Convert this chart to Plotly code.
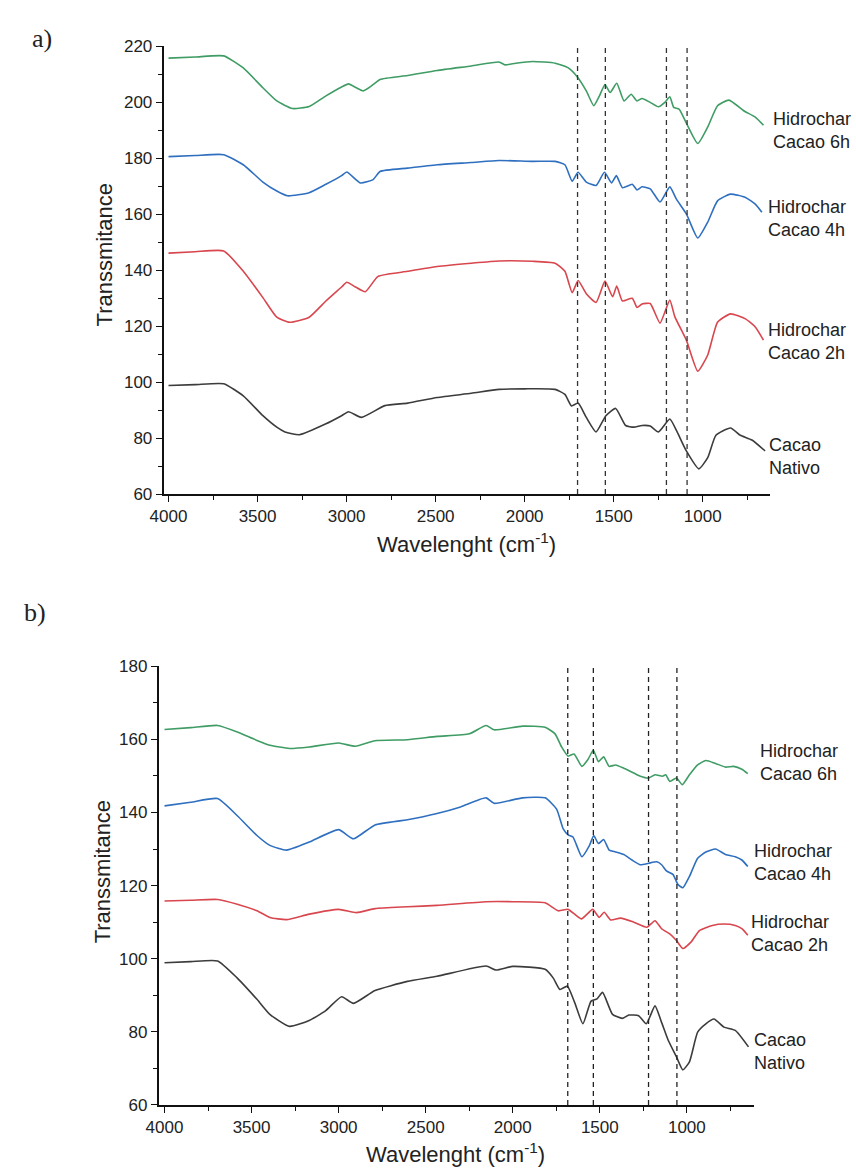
import plotly.graph_objects as go

# ---------------- Panel a data (wavenumber cm-1, transmittance) ----------------
a_green_x = [4000, 3850, 3690, 3580, 3470, 3392, 3304, 3210, 3116, 3028, 2989, 2945, 2906, 2862, 2812, 2657, 2492, 2300, 2144, 2110,
             2050, 1956, 1829, 1755, 1703, 1654, 1612, 1580, 1549, 1520, 1483, 1442, 1402, 1369, 1341, 1295, 1249, 1213, 1185, 1163,
             1133, 1092, 1028, 972, 917, 853, 770, 705, 659]
a_green_y = [215.8, 216.2, 216.6, 212.3, 205.2, 200.5, 197.8, 198.5, 202.3, 205.5, 206.6, 205.2, 204.1, 205.8, 208.2, 209.6, 211.4, 213.0, 214.4, 213.4,
             214.0, 214.6, 214.0, 212.3, 209.0, 204.1, 198.8, 202.3, 206.4, 203.5, 206.8, 200.5, 202.9, 200.5, 201.4, 200.0, 198.4, 200.0, 202.0, 198.2,
             197.6, 192.6, 185.3, 191.2, 198.8, 200.8, 197.0, 194.7, 191.8]

a_blue_x = [4000, 3850, 3690, 3580, 3470, 3392, 3331, 3210, 3116, 3028, 2999, 2923, 2851, 2812, 2657, 2492, 2300, 2144, 1956, 1829,
            1774, 1733, 1700, 1654, 1599, 1552, 1512, 1485, 1451, 1396, 1369, 1341, 1295, 1240, 1185, 1148, 1092, 1028, 972, 917,
            844, 760, 705, 668]
a_blue_y = [180.6, 181.0, 181.3, 177.7, 171.5, 168.3, 166.6, 167.7, 170.7, 173.8, 175.1, 171.2, 172.4, 175.3, 176.5, 177.7, 178.5, 179.2, 178.9, 178.9,
            177.7, 171.8, 175.0, 171.5, 170.3, 175.0, 171.2, 173.8, 169.5, 170.7, 168.7, 169.8, 169.1, 164.4, 169.8, 165.4, 160.1, 151.5, 157.2, 164.8,
            167.2, 166.0, 163.6, 160.7]

a_red_x = [4000, 3850, 3690, 3580, 3470, 3392, 3320, 3210, 3116, 3028, 2999, 2950, 2895, 2823, 2657, 2492, 2300, 2144, 1956, 1829,
           1774, 1733, 1700, 1654, 1599, 1549, 1506, 1483, 1451, 1396, 1369, 1341, 1295, 1240, 1185, 1157, 1092, 1028, 972, 917,
           844, 760, 705, 659]
a_red_y = [146.1, 146.6, 146.9, 139.6, 130.2, 123.2, 121.4, 123.2, 129.0, 134.0, 135.7, 134.0, 132.3, 137.8, 139.6, 141.3, 142.5, 143.3, 143.2, 142.5,
           139.6, 132.0, 136.3, 131.6, 128.5, 136.1, 130.5, 134.3, 129.0, 130.0, 126.7, 127.9, 128.1, 121.1, 129.3, 123.4, 115.0, 103.9, 109.7, 121.4,
           124.4, 122.6, 119.7, 115.0]

a_black_x = [4000, 3850, 3690, 3580, 3470, 3392, 3346, 3265, 3116, 3028, 2989, 2917, 2785, 2657, 2492, 2300, 2144, 2000, 1829, 1774,
             1737, 1700, 1654, 1599, 1544, 1489, 1433, 1387, 1341, 1295, 1249, 1185, 1144, 1092, 1022, 972, 926, 844, 789, 724,
             650]
a_black_y = [98.8, 99.1, 99.4, 95.1, 88.0, 83.9, 82.2, 81.2, 85.1, 88.0, 89.4, 87.4, 91.6, 92.5, 94.5, 96.0, 97.4, 97.6, 97.4, 95.6,
             91.5, 92.5, 87.4, 82.2, 88.0, 90.6, 84.5, 83.9, 84.5, 84.3, 82.2, 86.8, 82.2, 75.4, 69.0, 73.0, 81.0, 83.6, 81.0, 79.3,
             75.4]

# ---------------- Panel b data ----------------
b_green_x = [4000, 3850, 3695, 3582, 3469, 3395, 3282, 3169, 3000, 2904, 2791, 2605, 2435, 2249, 2153, 2107, 1944, 1814, 1757, 1719,
             1682, 1648, 1603, 1569, 1537, 1508, 1478, 1446, 1409, 1362, 1305, 1267, 1220, 1183, 1140, 1121, 1098, 1060, 1026, 985,
             938, 891, 835, 778, 731, 684, 650]
b_green_y = [162.7, 163.2, 163.8, 162.0, 159.7, 158.4, 157.5, 157.9, 159.0, 158.1, 159.6, 159.9, 160.8, 161.5, 163.8, 162.6, 163.6, 163.3, 161.5, 157.9,
             155.4, 156.0, 152.6, 154.4, 157.0, 153.9, 155.2, 152.6, 153.0, 152.1, 150.8, 149.9, 149.4, 150.3, 149.9, 150.3, 148.5, 149.4, 147.6, 150.3,
             153.0, 154.2, 153.4, 152.4, 152.6, 151.8, 150.6]

b_blue_x = [4000, 3850, 3695, 3582, 3469, 3395, 3299, 3169, 3000, 2915, 2791, 2605, 2435, 2300, 2153, 2107, 1944, 1814, 1748, 1710,
            1682, 1654, 1603, 1559, 1535, 1508, 1478, 1446, 1409, 1362, 1315, 1267, 1220, 1173, 1145, 1117, 1079, 1051, 1023, 985,
            938, 891, 835, 778, 722, 684, 650]
b_blue_y = [141.8, 142.8, 143.8, 139.1, 133.7, 131.0, 129.7, 131.9, 135.3, 132.8, 136.6, 138.0, 139.7, 141.5, 144.0, 142.5, 144.0, 144.0, 140.9, 135.5,
            133.9, 133.3, 127.9, 131.0, 133.7, 131.5, 132.6, 129.7, 129.2, 128.5, 127.0, 125.7, 126.1, 126.5, 125.7, 124.0, 123.0, 120.3, 119.4, 122.5,
            127.5, 129.2, 130.0, 128.5, 127.9, 127.0, 125.2]

b_red_x = [4000, 3850, 3695, 3582, 3469, 3395, 3299, 3169, 3000, 2898, 2791, 2605, 2435, 2153, 2000, 1814, 1738, 1682, 1606, 1541,
           1503, 1475, 1437, 1381, 1305, 1230, 1183, 1145, 1098, 1060, 1023, 975, 928, 853, 787, 722, 684, 650]
b_red_y = [115.8, 116.0, 116.2, 114.9, 113.1, 111.3, 110.7, 112.2, 113.5, 112.6, 113.7, 114.2, 114.6, 115.6, 115.6, 115.3, 113.1, 113.5, 110.9, 113.5,
           111.3, 112.7, 110.6, 111.1, 110.0, 108.6, 110.4, 108.2, 106.8, 105.0, 102.8, 104.6, 107.7, 109.1, 109.5, 109.1, 108.2, 106.4]

b_black_x = [4000, 3850, 3695, 3582, 3469, 3395, 3282, 3169, 3074, 2983, 2915, 2791, 2605, 2435, 2153, 2096, 2000, 1814, 1767, 1729,
             1686, 1644, 1597, 1550, 1516, 1484, 1427, 1371, 1333, 1277, 1233, 1183, 1145, 1107, 1060, 1023, 985, 938, 891, 844,
             787, 722, 646]
b_black_y = [98.9, 99.2, 99.4, 94.7, 88.9, 84.8, 81.5, 83.1, 85.8, 89.6, 87.8, 91.3, 93.8, 95.2, 98.0, 96.9, 97.9, 97.1, 94.7, 91.6,
             92.5, 88.0, 82.2, 88.4, 89.0, 90.8, 84.8, 83.7, 84.6, 84.4, 82.2, 87.1, 82.6, 77.7, 73.2, 69.6, 71.8, 79.9, 82.2, 83.5,
             81.3, 80.4, 75.9]

# dashed reference bands
a_bands = [1703, 1547, 1204, 1088]
b_bands = [1684, 1537, 1220, 1057]

# labels
labels = ["Hidrochar<br>Cacao 6h", "Hidrochar<br>Cacao 4h", "Hidrochar<br>Cacao 2h", "Cacao<br>Nativo"]
colors = ["#3f9c64", "#2f6fbf", "#d8464e", "#3c3c3c"]

W, H = 856, 1175
def px(x): return x / W
def py(y): return 1 - y / H

fig = go.Figure()

a_series = [(a_green_x, a_green_y), (a_blue_x, a_blue_y), (a_red_x, a_red_y), (a_black_x, a_black_y)]
b_series = [(b_green_x, b_green_y), (b_blue_x, b_blue_y), (b_red_x, b_red_y), (b_black_x, b_black_y)]

for (xs, ys), c, lab in zip(a_series, colors, labels):
    fig.add_trace(go.Scatter(x=xs, y=ys, mode="lines",
                             line=dict(color=c, width=1.6, shape="spline", smoothing=0.5),
                             name=lab.replace("<br>", " "), xaxis="x", yaxis="y", showlegend=False))
for (xs, ys), c, lab in zip(b_series, colors, labels):
    fig.add_trace(go.Scatter(x=xs, y=ys, mode="lines",
                             line=dict(color=c, width=1.6, shape="spline", smoothing=0.5),
                             name=lab.replace("<br>", " "), xaxis="x2", yaxis="y2", showlegend=False))

tickfont = dict(family="Arial, Liberation Sans, sans-serif", size=17, color="#222")
common_x = dict(tickmode="array", tickvals=[4000, 3500, 3000, 2500, 2000, 1500, 1000],
                showline=True, linecolor="#111", linewidth=1.6, ticks="outside", ticklen=6,
                tickwidth=1.4, tickcolor="#111", showgrid=False, zeroline=False, tickfont=tickfont,
                minor=dict(tickvals=[3750, 3250, 2750, 2250, 1750, 1250, 750], ticks="outside",
                           ticklen=4, tickcolor="#111", tickwidth=1.2, showgrid=False),
                ticklabelstandoff=0)
common_y = dict(tickmode="linear", dtick=20, showline=True, linecolor="#111", linewidth=1.6,
                ticks="outside", ticklen=6, tickwidth=1.4, tickcolor="#111", showgrid=False,
                zeroline=False, tickfont=tickfont,
                minor=dict(dtick=10, ticks="outside", ticklen=4, tickcolor="#111", tickwidth=1.2, showgrid=False))

fig.update_layout(
    width=W, height=H, margin=dict(l=0, r=0, t=0, b=0),
    paper_bgcolor="white", plot_bgcolor="white",
    xaxis=dict(domain=[px(152), px(769)], range=[4028, 620], anchor="y", **common_x),
    yaxis=dict(domain=[py(493), py(38)], range=[60, 220], anchor="x", tick0=60, **common_y),
    xaxis2=dict(domain=[px(147), px(752)], range=[4034, 616], anchor="y2", **common_x),
    yaxis2=dict(domain=[py(1114), py(668)], range=[60, 180], anchor="x2", tick0=60, **common_y),
)

shapes = []
for b in a_bands:
    shapes.append(dict(type="line", xref="x", yref="y", x0=b, x1=b, y0=60, y1=220,
                       line=dict(color="#333", width=1.3, dash="5px,4px")))
for b in b_bands:
    shapes.append(dict(type="line", xref="x2", yref="y2", x0=b, x1=b, y0=60, y1=181.5,
                       line=dict(color="#222", width=1.3, dash="5px,4px")))
fig.update_layout(shapes=shapes)

lab_font = dict(family="Arial, Liberation Sans, sans-serif", size=18, color="#222")
title_font = dict(family="Arial, Liberation Sans, sans-serif", size=22, color="#222")
serif_font = dict(family="Liberation Serif, Times New Roman, serif", size=26, color="#222")

ann = []
a_lab_pos = [(770, 123), (765, 213), (765, 338), (766, 455)]
b_lab_pos = [(756, 766), (750, 868), (747, 940), (750, 1060)]
for lab, (x, y) in zip(labels, a_lab_pos):
    ann.append(dict(text=lab, x=px(x), y=py(y), xref="paper", yref="paper", xanchor="left",
                    yanchor="middle", align="left", showarrow=False, font=lab_font))
for lab, (x, y) in zip(labels, b_lab_pos):
    ann.append(dict(text=lab, x=px(x), y=py(y), xref="paper", yref="paper", xanchor="left",
                    yanchor="middle", align="left", showarrow=False, font=lab_font))

ann.append(dict(text="Transsmitance", x=px(92), y=py(250), xref="paper", yref="paper",
                textangle=-90, showarrow=False, font=title_font, xanchor="center", yanchor="middle"))
ann.append(dict(text="Transsmitance", x=px(90), y=py(877), xref="paper", yref="paper",
                textangle=-90, showarrow=False, font=title_font, xanchor="center", yanchor="middle"))
ann.append(dict(text="Wavelenght (cm<sup>-1</sup>)", x=px(460), y=py(543), xref="paper", yref="paper",
                showarrow=False, font=title_font, xanchor="center", yanchor="middle"))
ann.append(dict(text="Wavelenght (cm<sup>-1</sup>)", x=px(449), y=py(1163), xref="paper", yref="paper",
                showarrow=False, font=title_font, xanchor="center", yanchor="middle"))
ann.append(dict(text="a)", x=px(28), y=py(30), xref="paper", yref="paper", showarrow=False,
                font=serif_font, xanchor="center", yanchor="middle"))
ann.append(dict(text="b)", x=px(21), y=py(613), xref="paper", yref="paper", showarrow=False,
                font=serif_font, xanchor="center", yanchor="middle"))
fig.update_layout(annotations=ann)

fig.write_html("out.html")
